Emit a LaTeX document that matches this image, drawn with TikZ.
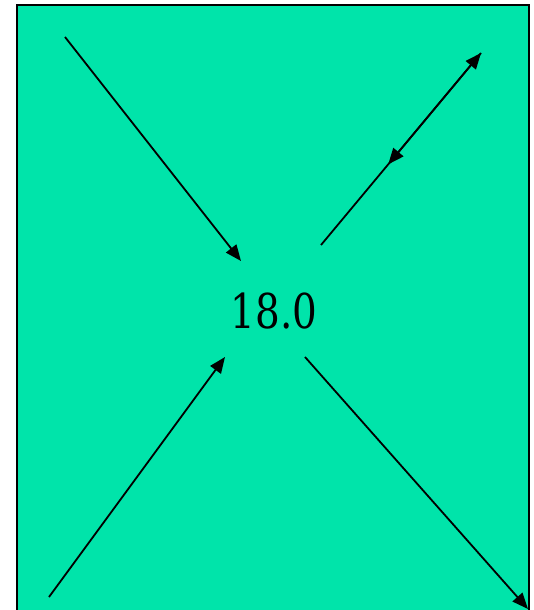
\documentclass[tikz,border=0pt]{standalone}
\usepackage{tikz}
\usepackage{fontspec}
\usetikzlibrary{arrows.meta,calc}
\newfontfamily\valuefont{DejaVu Serif Condensed}
\definecolor{panelgreen}{RGB}{0,228,170}

\begin{document}
\begin{tikzpicture}[
    x=1pt, y=-1pt,
    panel/.style={draw, line width=2pt, fill=panelgreen},
    line/.style={-{Triangle[length=16pt,width=13pt]}, line width=1.8pt},
    value/.style={font=\valuefont\fontsize{48}{56}\selectfont, inner sep=0pt}
]
    \clip (0,0) rectangle (533,610);
    \path[panel] (17,5) rectangle (529,640);
    \node[value] (val) at (274,311) {\scalebox{0.9}[1]{18.0}};

    % free ends of the connectors
    \coordinate (tlstart) at (65,37);
    \coordinate (tlend) at (241,261);
    \coordinate (trstart) at (321,245);
    \coordinate (trend) at (481,53);
    \coordinate (trmid) at ($(trstart)!0.42!(trend)$);
    \coordinate (blstart) at (49,597);
    \coordinate (blend) at (225,357);
    \coordinate (brstart) at (305,357);
    \coordinate (brend) at (528,609);

    \draw[line] (tlstart) -- (tlend);
    \draw[line] (trstart) -- (trend);
    \draw[line] (trend) -- (trmid);
    \draw[line] (blstart) -- (blend);
    \draw[line] (brstart) -- (brend);
\end{tikzpicture}
\end{document}
